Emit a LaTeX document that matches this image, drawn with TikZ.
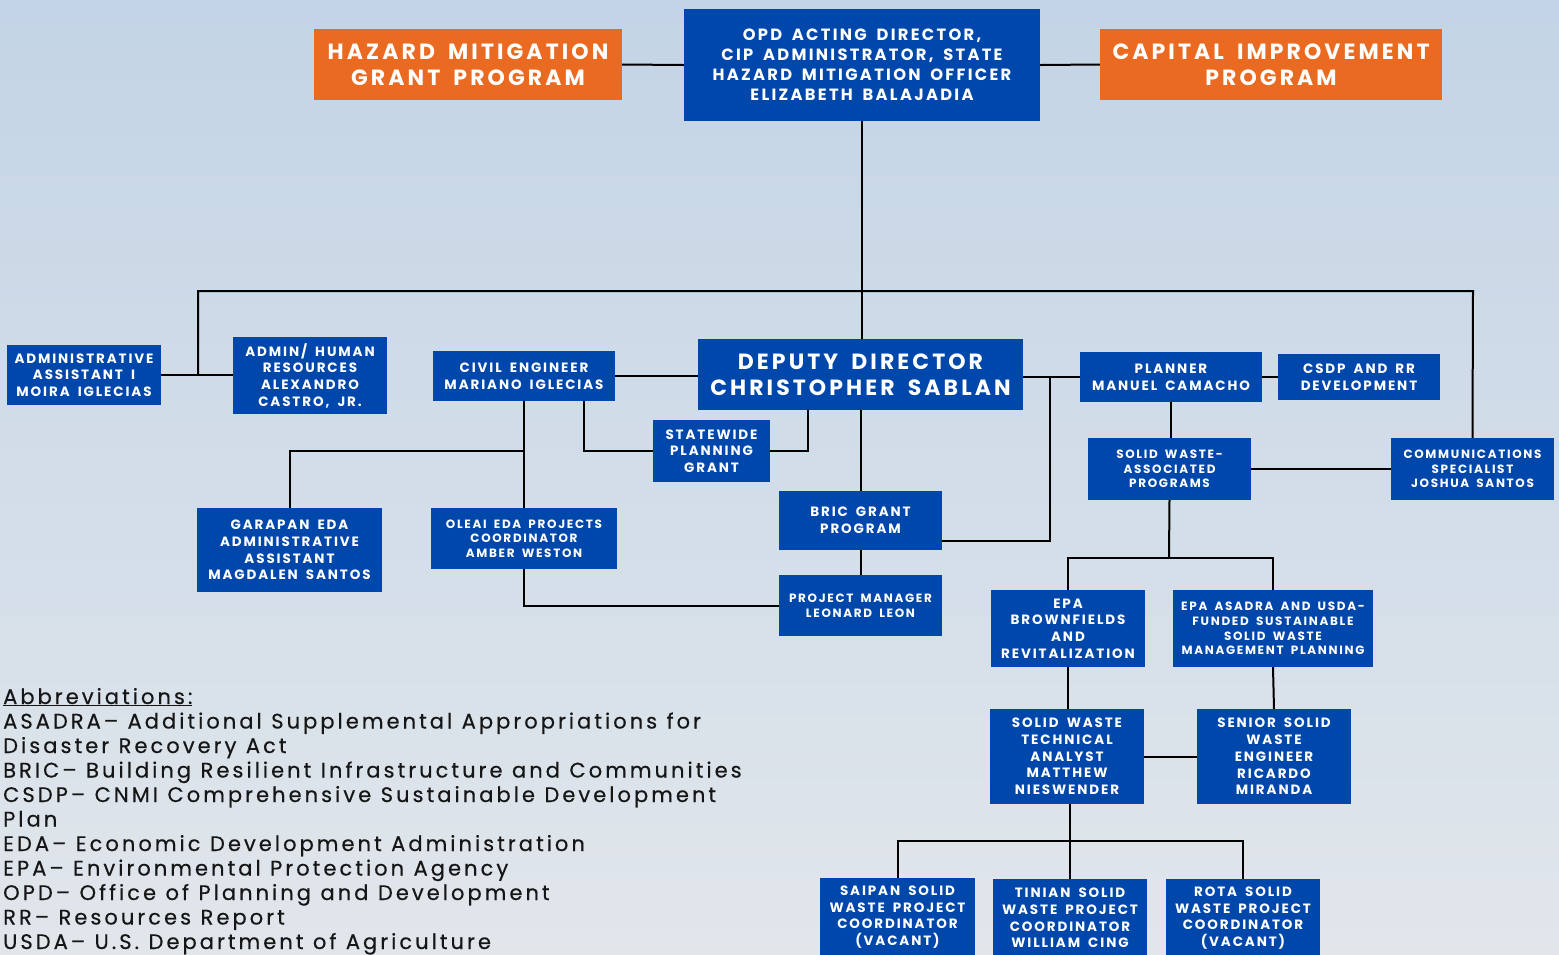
\documentclass[tikz,border=0pt]{standalone}
\usepackage{fontspec}
\usetikzlibrary{backgrounds}
\newfontfamily\bxfont{Poppins}[LetterSpace=14, WordSpace=1.7]
\newfontfamily\lgfont{Poppins}[LetterSpace=14.5, WordSpace=1.1, FakeBold=0.4]
\definecolor{boxblue}{HTML}{0047AB}
\definecolor{boxorange}{HTML}{EA6A21}
\definecolor{bgtop}{HTML}{C3D4E6}
\definecolor{bgbot}{HTML}{E1E6EB}
\definecolor{legendtxt}{HTML}{161616}
\tikzset{
  bx/.style={fill=boxblue, text=white, align=center, inner sep=0pt,
    font=\bxfont\bfseries\fontsize{13.5}{16.7}\selectfont},
  bxs/.style={bx, font=\bxfont\bfseries\fontsize{12}{14.6}\selectfont},
  bxo/.style={bx, fill=boxorange, font=\bxfont\bfseries\fontsize{22}{26}\selectfont},
  bxl/.style={bx, font=\bxfont\bfseries\fontsize{22}{26}\selectfont},
  bxm/.style={bx, font=\bxfont\bfseries\fontsize{16.3}{20}\selectfont},
  conn/.style={line width=2pt, black},
  lg/.style={anchor=base west, inner sep=0pt, text=legendtxt,
    font=\lgfont\fontsize{21}{24}\selectfont},
}
\begin{document}
\begin{tikzpicture}[x=1pt, y=-1pt]
\useasboundingbox (0,0) rectangle (1559,954);
% boxes
\node[bxo, minimum width=308pt, minimum height=71pt] (hmgp) at (468,64.5) {HAZARD MITIGATION\\GRANT PROGRAM};
\node[bxm, minimum width=356pt, minimum height=112pt] (opd) at (862,65) {OPD ACTING DIRECTOR,\\CIP ADMINISTRATOR, STATE\\HAZARD MITIGATION OFFICER\\ELIZABETH BALAJADIA};
\node[bxo, minimum width=342pt, minimum height=71pt] (cip) at (1271,64.5) {CAPITAL IMPROVEMENT\\PROGRAM};
\node[bxl, minimum width=325pt, minimum height=71pt] (deputy) at (860.5,374.5) {DEPUTY DIRECTOR\\CHRISTOPHER SABLAN};
\node[bx, minimum width=154pt, minimum height=60pt] (aa1) at (84,375) {ADMINISTRATIVE\\ASSISTANT I\\MOIRA IGLECIAS};
\node[bx, minimum width=154pt, minimum height=77pt] (ahr) at (310,375.5) {ADMIN/ HUMAN\\RESOURCES\\ALEXANDRO\\CASTRO, JR.};
\node[bx, minimum width=182pt, minimum height=50pt] (civil) at (524,376) {CIVIL ENGINEER\\MARIANO IGLECIAS};
\node[bx, minimum width=117pt, minimum height=62pt] (swpg) at (711.5,451) {STATEWIDE\\PLANNING\\GRANT};
\node[bx, minimum width=182pt, minimum height=50pt] (planner) at (1171,377) {PLANNER\\MANUEL CAMACHO};
\node[bx, minimum width=162pt, minimum height=46pt] (csdp) at (1359,377) {CSDP AND RR\\DEVELOPMENT};
\node[bxs, minimum width=163pt, minimum height=62pt] (swap) at (1169.5,469) {SOLID WASTE-\\ASSOCIATED\\PROGRAMS};
\node[bxs, minimum width=163pt, minimum height=62pt] (comm) at (1472.5,469) {COMMUNICATIONS\\SPECIALIST\\JOSHUA SANTOS};
\node[bx, minimum width=185pt, minimum height=84pt] (garapan) at (289.5,550) {GARAPAN EDA\\ADMINISTRATIVE\\ASSISTANT\\MAGDALEN SANTOS};
\node[bxs, minimum width=186pt, minimum height=61pt] (oleai) at (524,538.5) {OLEAI EDA PROJECTS\\COORDINATOR\\AMBER WESTON};
\node[bx, minimum width=163pt, minimum height=59pt] (bric) at (860.5,520.5) {BRIC GRANT\\PROGRAM};
\node[bxs, minimum width=163pt, minimum height=61pt] (pm) at (860.5,605.5) {PROJECT MANAGER\\LEONARD LEON};
\node[bx, minimum width=154pt, minimum height=77pt] (epab) at (1068,628.5) {EPA\\BROWNFIELDS\\AND\\REVITALIZATION};
\node[bxs, minimum width=200pt, minimum height=77pt] (epaa) at (1273,628.5) {EPA ASADRA AND USDA-\\FUNDED SUSTAINABLE\\SOLID WASTE\\MANAGEMENT PLANNING};
\node[bx, minimum width=154pt, minimum height=95pt] (swta) at (1067,756.5) {SOLID WASTE\\TECHNICAL\\ANALYST\\MATTHEW\\NIESWENDER};
\node[bx, minimum width=154pt, minimum height=95pt] (sswe) at (1274,756.5) {SENIOR SOLID\\WASTE\\ENGINEER\\RICARDO\\MIRANDA};
\node[bx, minimum width=155pt, minimum height=78pt] (saipan) at (897.5,917) {SAIPAN SOLID\\WASTE PROJECT\\COORDINATOR\\(VACANT)};
\node[bx, minimum width=154pt, minimum height=78pt] (tinian) at (1070,918) {TINIAN SOLID\\WASTE PROJECT\\COORDINATOR\\WILLIAM CING};
\node[bx, minimum width=154pt, minimum height=78pt] (rota) at (1243,918) {ROTA SOLID\\WASTE PROJECT\\COORDINATOR\\(VACANT)};
% legend
\node[lg] (lg0) at (3,704) {\underline{Abbreviations:}};
\node[lg] (lg1) at (3,728.5) {ASADRA– Additional Supplemental Appropriations for};
\node[lg] (lg2) at (3,753) {Disaster Recovery Act};
\node[lg] (lg3) at (3,777.5) {BRIC– Building Resilient Infrastructure and Communities};
\node[lg] (lg4) at (3,802) {CSDP– CNMI Comprehensive Sustainable Development};
\node[lg] (lg5) at (3,826.5) {Plan};
\node[lg] (lg6) at (3,851) {EDA– Economic Development Administration};
\node[lg] (lg7) at (3,875.5) {EPA– Environmental Protection Agency};
\node[lg] (lg8) at (3,900) {OPD– Office of Planning and Development};
\node[lg] (lg9) at (3,924.5) {RR– Resources Report};
\node[lg] (lg10) at (3,949) {USDA– U.S. Department of Agriculture};
% junction coordinates
\coordinate (barL) at (198,291);
\coordinate (barR) at (1473,291);
\coordinate (gj) at (524,451);
\coordinate (dj) at (808,410);
\coordinate (pj) at (1050,377);
\coordinate (bj) at (942,541);
\coordinate (sj) at (1169,558);
\coordinate (tj) at (1070,841);
\begin{scope}[on background layer]
\shade[top color=bgtop, bottom color=bgbot] (0,0) rectangle (1559,954);
\draw[conn] (hmgp.east) -- (opd.west);
\draw[conn] (opd.east) -- (cip.west);
\draw[conn] (opd.south) -- (opd.south |- deputy.north);
\draw[conn] (barL |- aa1.east) -- (barL) -- (barR) -- (comm.north);
\draw[conn] (aa1.east) -- (ahr.west |- aa1.east);
\draw[conn] (civil.east) -- (deputy.west |- civil.east);
\draw[conn] ([xshift=60pt]civil.south) |- (swpg.west);
\draw[conn] (swpg.east) -| (dj);
\draw[conn] (civil.south) |- (pm.west);
\draw[conn] (gj) -| (garapan.north);
\draw[conn] (deputy.south) -- (bric.north);
\draw[conn] (bric.south) -- (pm.north);
\draw[conn] (deputy.east |- planner.west) -- (planner.west);
\draw[conn] (pj) |- (bj);
\draw[conn] (planner.east) -- (csdp.west);
\draw[conn] (planner.south) -- (planner.south |- swap.north);
\draw[conn] (swap.east) -- (comm.west);
\draw[conn] (swap.south) -- (sj);
\draw[conn] (epab.north) |- (sj) -| (epaa.north);
\draw[conn] (epab.south) -- (epab.south |- swta.north);
\draw[conn] (epaa.south) -- (sswe.north);
\draw[conn] (swta.east) -- (sswe.west);
\draw[conn] (saipan.north) |- (tj) -| (rota.north);
\draw[conn] (tinian.north |- swta.south) -- (tinian.north);
\end{scope}
\end{tikzpicture}
\end{document}
